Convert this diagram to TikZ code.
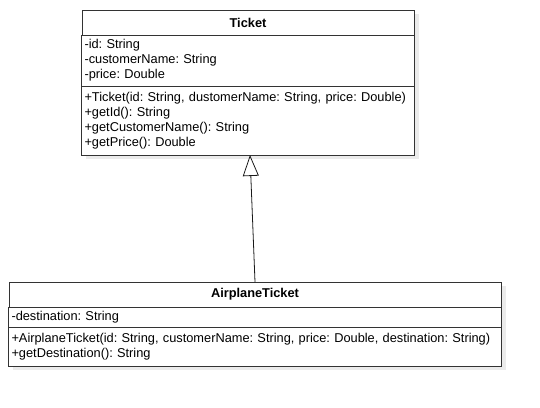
\documentclass[tikz,border=0pt]{standalone}
\usepackage{fontspec}
\setmainfont{Liberation Sans}
\usetikzlibrary{arrows.meta,backgrounds}
\tikzset{
  umlfont/.style={font=\fontsize{12.8}{15}\selectfont\frenchspacing},
  umlhead/.style={umlfont, draw=black!80, line width=0.8pt, outer sep=0pt, fill=white, anchor=north west, inner sep=0pt,
    font=\fontsize{12.8}{15}\selectfont\bfseries, minimum height=25pt},
  umlpart/.style={umlfont, draw=black!80, line width=0.8pt, outer sep=0pt, fill=white, anchor=north, inner xsep=3pt,
    inner ysep=3pt, align=left},
  extends/.style={-{Triangle[open,length=21pt,width=16pt]}, draw=black!90, line width=0.8pt},
}
\begin{document}
\hyphenpenalty=10000
\begin{tikzpicture}[x=1pt,y=-1pt]
  \useasboundingbox (0,0) rectangle (540,407);
  % Ticket
  \node[umlhead, minimum width=332pt] (ticket) at (82,10) {Ticket};
  \node[umlpart, minimum width=332pt, minimum height=51pt, text width=327pt]
    (ticketattr) at (ticket.south) {-id: String\\-customerName: String\\-price: Double};
  \node[umlpart, minimum width=332pt, minimum height=69pt, text width=327pt]
    (ticketops) at (ticketattr.south) {+Ticket(id: String, dustomerName: String, price: Double)\\+getId(): String\\+getCustomerName(): String\\+getPrice(): Double};
  % AirplaneTicket
  \node[umlhead, minimum width=492pt] (airplane) at (9,282) {AirplaneTicket};
  \node[umlpart, minimum width=492pt, minimum height=20pt, text width=487pt]
    (airplaneattr) at (airplane.south) {-destination: String};
  \node[umlpart, minimum width=492pt, minimum height=39pt, text width=487pt]
    (airplaneops) at (airplaneattr.south) {+AirplaneTicket(id: String, customerName: String, price: Double, destination: String)\\+getDestination(): String};
  % shadows
  \begin{scope}[on background layer]
    \fill[black!8] ([shift={(4,4)}]ticket.north west) rectangle ([shift={(4,4)}]ticketops.south east);
    \fill[black!8] ([shift={(4,4)}]airplane.north west) rectangle ([shift={(4,4)}]airplaneops.south east);
  \end{scope}
  % inheritance
  \draw[extends] (airplane.north) -- ([xshift=2pt]ticketops.south);
\end{tikzpicture}
\end{document}
